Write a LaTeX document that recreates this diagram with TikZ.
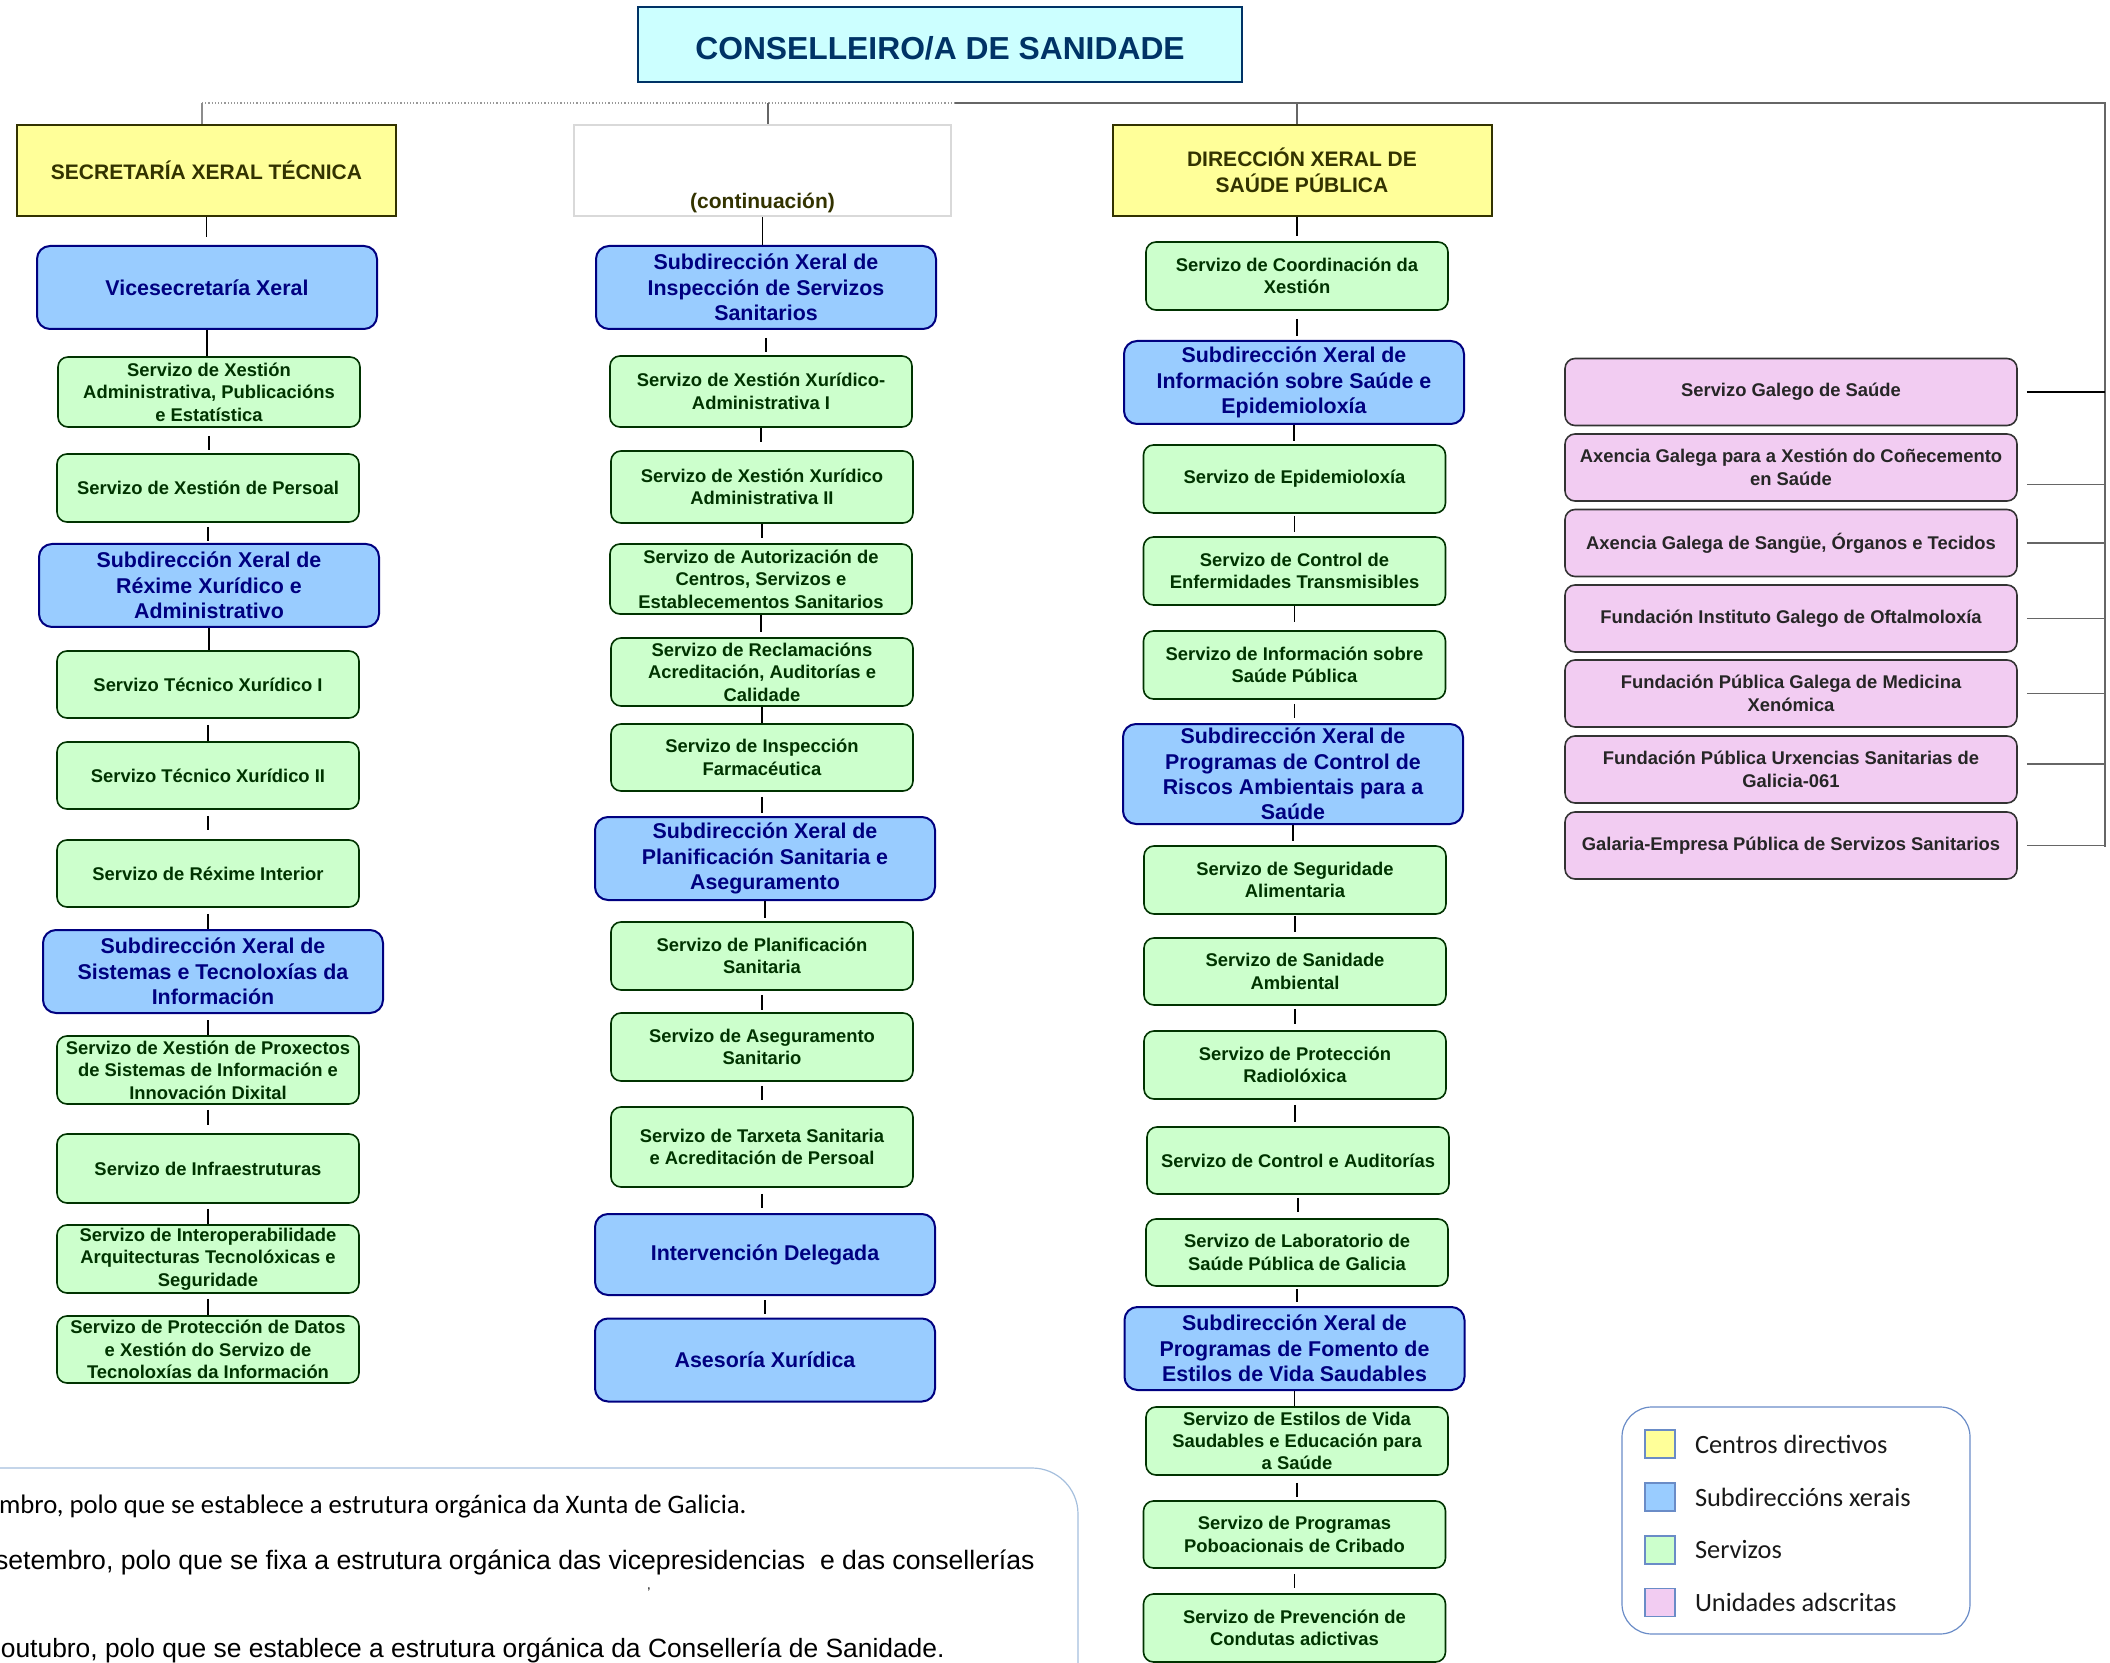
\documentclass[tikz,border=0pt]{standalone}
\usepackage{fontspec}
\setmainfont{Liberation Sans}
\newfontfamily\carlito{Carlito}
\usetikzlibrary{positioning}
\definecolor{amarelo}{HTML}{FFFF99}
\definecolor{oliva}{HTML}{333300}
\definecolor{azul}{HTML}{99CCFF}
\definecolor{azulesc}{HTML}{000080}
\definecolor{verde}{HTML}{CCFFCC}
\definecolor{verdeesc}{HTML}{003300}
\definecolor{rosa}{HTML}{F2CCF2}
\definecolor{rosaesc}{HTML}{333333}
\definecolor{cian}{HTML}{CCFFFF}
\definecolor{azulmar}{HTML}{003366}
\definecolor{grisclaro}{HTML}{D9D9D9}
\definecolor{lendaazul}{HTML}{6A8CC7}
\definecolor{notaazul}{HTML}{A5BFDD}

\begin{document}
\begin{tikzpicture}
[
    x=0.5pt, y=-0.5pt,
    every node/.style={inner sep=0pt, align=center},
    titulo/.style={draw=azulmar, fill=cian, line width=1pt, minimum width=302pt, minimum height=37.5pt, text=azulmar, font=\bfseries\fontsize{15.9}{19}\selectfont},
    cabeza/.style={draw=oliva, fill=amarelo, line width=1pt, minimum width=189.5pt, minimum height=45.5pt, text=oliva, font=\bfseries\fontsize{10.5}{12.8}\selectfont},
    subdir/.style={draw=azulesc, fill=azul, rounded corners=6.5pt, line width=1pt, minimum width=170pt, minimum height=41.5pt, text=azulesc, font=\bfseries\fontsize{10.7}{12.65}\selectfont},
    servizo/.style={draw=verdeesc, fill=verde, rounded corners=5pt, line width=0.8pt, minimum width=151pt, minimum height=34pt, text=verdeesc, font=\bfseries\fontsize{9.2}{11.2}\selectfont},
    adscrita/.style={draw=rosaesc, fill=rosa, rounded corners=5pt, line width=0.8pt, minimum width=226pt, minimum height=33.5pt, text=black!85, font=\bfseries\fontsize{9.2}{11.2}\selectfont},
    link/.style={line width=0.8pt},
    barra/.style={draw=black!60, line width=0.6pt},
    cadro/.style={draw=lendaazul, line width=0.6pt, minimum width=15pt, minimum height=14pt},
    lenda/.style={text=black!90, font=\carlito\fontsize{13.2}{15}\selectfont},
    nota/.style={text=black, font=\fontsize{13.3}{15}\selectfont},
]
\useasboundingbox (0,0) rectangle (2110,1663);
\node[titulo, text height=15.4pt, text depth=0.3pt] (conselleiro) at (940,44.5) {CONSELLEIRO/A DE SANIDADE};
\node[cabeza] (sxt) at (206.5,170.5) {SECRETARÍA XERAL TÉCNICA};
\node[subdir] (vice) at (207,287.5) {Vicesecretaría Xeral};
\node[servizo, minimum height=35pt] (admin) at (209,392) {Servizo de Xestión\\Administrativa, Publicacións\\e Estatística};
\node[servizo] (persoal) at (208,488) {Servizo de Xestión de Persoal};
\node[subdir] (rexime) at (209,585.5) {Subdirección Xeral de\\Réxime Xurídico e\\Administrativo};
\node[servizo, minimum height=33.5pt] (tec1) at (208,684.5) {Servizo Técnico Xurídico I};
\node[servizo, minimum height=33.5pt] (tec2) at (208,775.5) {Servizo Técnico Xurídico II};
\node[servizo, minimum height=33.5pt] (interior) at (208,873.5) {Servizo de Réxime Interior};
\node[subdir] (sistemas) at (213,971.5) {Subdirección Xeral de\\Sistemas e Tecnoloxías da\\Información};
\node[servizo] (proxectos) at (208,1070) {Servizo de Xestión de Proxectos\\de Sistemas de Información e\\Innovación Dixital};
\node[servizo, minimum height=34.5pt] (infra) at (208,1168.5) {Servizo de Infraestruturas};
\node[servizo] (interop) at (208,1259) {Servizo de Interoperabilidade\\Arquitecturas Tecnolóxicas e\\Seguridade};
\node[servizo, minimum height=33.5pt] (datos) at (208,1349.5) {Servizo de Protección de Datos\\e Xestión do Servizo de\\Tecnoloxías da Información};
\node[cabeza, draw=grisclaro, fill=white, minimum width=188.5pt, label={[anchor=base, yshift=4pt, text=oliva, font=\bfseries\fontsize{10.5}{12.8}\selectfont]south:(continuación)}] (cont) at (762.5,170.5) {};
\node[subdir] (inspec) at (766,287.5) {Subdirección Xeral de\\Inspección de Servizos\\Sanitarios};
\node[servizo, minimum height=35.5pt] (xur1) at (761,391.5) {Servizo de Xestión Xurídico-\\Administrativa I};
\node[servizo, minimum height=36pt] (xur2) at (762,487) {Servizo de Xestión Xurídico\\Administrativa II};
\node[servizo, minimum height=35pt] (autor) at (761,579) {Servizo de Autorización de\\Centros, Servizos e\\Establecementos Sanitarios};
\node[servizo] (reclam) at (762,672) {Servizo de Reclamacións\\Acreditación, Auditorías e\\Calidade};
\node[servizo, minimum height=33.5pt] (farma) at (762,757.5) {Servizo de Inspección\\Farmacéutica};
\node[subdir] (planif) at (765,858.5) {Subdirección Xeral de\\Planificación Sanitaria e\\Aseguramento};
\node[servizo] (plansan) at (762,956) {Servizo de Planificación\\Sanitaria};
\node[servizo] (asegur) at (762,1047) {Servizo de Aseguramento\\Sanitario};
\node[servizo, minimum height=40pt] (tarxeta) at (762,1147) {Servizo de Tarxeta Sanitaria\\e Acreditación de Persoal};
\node[subdir, minimum height=40.5pt] (interv) at (765,1254.5) {Intervención Delegada};
\node[subdir] (asesoria) at (765,1360) {Asesoría Xurídica};
\node[cabeza] (dxsp) at (1302,170.5) {DIRECCIÓN XERAL DE\\SAÚDE PÚBLICA};
\node[servizo] (coord) at (1297,276) {Servizo de Coordinación da\\Xestión};
\node[subdir] (infosaude) at (1294,382.5) {Subdirección Xeral de\\Información sobre Saúde e\\Epidemioloxía};
\node[servizo] (epidem) at (1294.5,479) {Servizo de Epidemioloxía};
\node[servizo] (enferm) at (1294.5,571) {Servizo de Control de\\Enfermidades Transmisibles};
\node[servizo] (infopub) at (1294.5,665) {Servizo de Información sobre\\Saúde Pública};
\node[subdir, minimum height=50pt] (riscos) at (1293,774) {Subdirección Xeral de\\Programas de Control de\\Riscos Ambientais para a\\Saúde};
\node[servizo] (alim) at (1295,880) {Servizo de Seguridade\\Alimentaria};
\node[servizo, minimum height=33.5pt] (ambiental) at (1295,971.5) {Servizo de Sanidade\\Ambiental};
\node[servizo] (radio) at (1295,1065) {Servizo de Protección\\Radiolóxica};
\node[servizo, minimum height=33.5pt] (auditor) at (1298,1160.5) {Servizo de Control e Auditorías};
\node[servizo, minimum height=33.5pt] (labor) at (1297,1252.5) {Servizo de Laboratorio de\\Saúde Pública de Galicia};
\node[subdir] (fomento) at (1294.5,1348.5) {Subdirección Xeral de\\Programas de Fomento de\\Estilos de Vida Saudables};
\node[servizo] (estilos) at (1297,1441) {Servizo de Estilos de Vida\\Saudables e Educación para\\a Saúde};
\node[servizo, minimum height=33.5pt] (cribado) at (1294.5,1534.5) {Servizo de Programas\\Poboacionais de Cribado};
\node[servizo] (adictivas) at (1294.5,1628) {Servizo de Prevención de\\Condutas adictivas};
\node[adscrita] (sergas) at (1791,392) {Servizo Galego de Saúde};
\node[adscrita] (acis) at (1791,467.5) {Axencia Galega para a Xestión do Coñecemento\\en Saúde};
\node[adscrita] (adost) at (1791,543) {Axencia Galega de Sangüe, Órganos e Tecidos};
\node[adscrita] (oftalmo) at (1791,618.5) {Fundación Instituto Galego de Oftalmoloxía};
\node[adscrita] (xenomica) at (1791,693.5) {Fundación Pública Galega de Medicina\\Xenómica};
\node[adscrita] (urxencias) at (1791,769.5) {Fundación Pública Urxencias Sanitarias de\\Galicia-061};
\node[adscrita] (galaria) at (1791,845.5) {Galaria-Empresa Pública de Servizos Sanitarios};
\coordinate (barL) at (202,103);
\coordinate (barM) at (955,103);
\coordinate (barR) at (2105,103);
\coordinate (busB) at (2105,847);
\coordinate (baixa2) at (768,103);
\coordinate (baixa3) at (1297,103);
\draw[barra, draw=black!40, densely dotted] (barL) -- (barM);
\draw[barra] (barM) -- (barR) -- (busB);
\draw[barra, draw=black!45] (barL) -- (barL |- sxt.north);
\draw[barra] (baixa2) -- (baixa2 |- cont.north);
\draw[barra] (baixa3) -- (baixa3 |- dxsp.north);
\draw[barra, draw=black, shorten <=4.5pt] (sergas.east) -- (sergas.east -| barR);
\draw[barra, shorten <=4.5pt] ([yshift=-8.5pt]acis.east) -- ([yshift=-8.5pt]acis.east -| barR);
\draw[barra, shorten <=4.5pt] (adost.east) -- (adost.east -| barR);
\draw[barra, shorten <=4.5pt] (oftalmo.east) -- (oftalmo.east -| barR);
\draw[barra, shorten <=4.5pt] (xenomica.east) -- (xenomica.east -| barR);
\draw[barra, shorten <=4.5pt] ([yshift=2.75pt]urxencias.east) -- ([yshift=2.75pt]urxencias.east -| barR);
\draw[barra, shorten <=4.5pt] (galaria.east) -- (galaria.east -| barR);
\draw[link, shorten >=4pt] (sxt.south) -- (sxt.south |- vice.north);
\draw[link] (vice.south) -- (vice.south |- admin.north);
\draw[link, shorten <=4pt, shorten >=1.5pt] (admin.south) -- (admin.south |- persoal.north);
\draw[link, shorten <=2pt, shorten >=1pt] (persoal.south) -- (persoal.south |- rexime.north);
\draw[link] (rexime.south) -- (rexime.south |- tec1.north);
\draw[link, shorten <=3pt] (tec1.south) -- (tec1.south |- tec2.north);
\draw[link, shorten <=3pt, shorten >=4.5pt] (tec2.south) -- (tec2.south |- interior.north);
\draw[link, shorten <=3pt] (interior.south) -- (interior.south |- sistemas.north);
\draw[link, shorten <=3pt] (proxectos.north |- sistemas.south) -- (proxectos.north);
\draw[link, shorten <=2.5pt, shorten >=4pt] (proxectos.south) -- (proxectos.south |- infra.north);
\draw[link, shorten <=2.5pt] (infra.south) -- (infra.south |- interop.north);
\draw[link, shorten <=2.5pt] (interop.south) -- (interop.south |- datos.north);
\draw[link] (cont.south) -- (cont.south |- inspec.north);
\draw[link, shorten <=4pt, shorten >=1.5pt] (inspec.south) -- (inspec.south |- xur1.north);
\draw[link, shorten >=4pt] (xur1.south) -- (xur1.south |- xur2.north);
\draw[link, shorten >=2.5pt] (xur2.south) -- (xur2.south |- autor.north);
\draw[link, shorten >=2.5pt] (autor.south) -- (autor.south |- reclam.north);
\draw[link] (reclam.south) -- (reclam.south |- farma.north);
\draw[link, shorten <=2.5pt, shorten >=1.5pt] (farma.south) -- (farma.south |- planif.north);
\draw[link, shorten >=1.5pt] (planif.south) -- (planif.south |- plansan.north);
\draw[link, shorten <=2pt, shorten >=1pt] (plansan.south) -- (plansan.south |- asegur.north);
\draw[link, shorten <=2pt, shorten >=3pt] (asegur.south) -- (asegur.south |- tarxeta.north);
\draw[link, shorten <=3pt, shorten >=2.5pt] (tarxeta.south) -- (tarxeta.south |- interv.north);
\draw[link, shorten <=2pt, shorten >=2pt] (interv.south) -- (interv.south |- asesoria.north);
\draw[link, shorten >=2.5pt] (coord.north |- dxsp.south) -- (coord.north);
\draw[link, shorten <=4pt, shorten >=2pt] (coord.south) -- (coord.south |- infosaude.north);
\draw[link, shorten >=1.5pt] (infosaude.south) -- (infosaude.south |- epidem.north);
\draw[link, shorten <=1pt, shorten >=2pt] (epidem.south) -- (epidem.south |- enferm.north);
\draw[link, shorten >=4pt] (enferm.south) -- (enferm.south |- infopub.north);
\draw[link, shorten <=2pt, shorten >=2.5pt] (infopub.south) -- (infopub.south |- riscos.north);
\draw[link, shorten >=2pt] (riscos.south) -- (riscos.south |- alim.north);
\draw[link, shorten <=0.5pt, shorten >=2.5pt] (alim.south) -- (alim.south |- ambiental.north);
\draw[link, shorten <=1.5pt, shorten >=3pt] (ambiental.south) -- (ambiental.south |- radio.north);
\draw[link, shorten <=2.5pt, shorten >=2pt] (radio.south) -- (radio.south |- auditor.north);
\draw[link, shorten <=1.5pt, shorten >=3pt] (auditor.south) -- (auditor.south |- labor.north);
\draw[link, shorten <=1pt, shorten >=2pt] (labor.south) -- (labor.south |- fomento.north);
\draw[link] (fomento.south) -- (fomento.south |- estilos.north);
\draw[link, shorten <=3.5pt, shorten >=1.5pt] (estilos.south) -- (estilos.south |- cribado.north);
\draw[link, shorten <=2.5pt, shorten >=2.5pt] (cribado.south) -- (cribado.south |- adictivas.north);
\node[draw=lendaazul, line width=0.6pt, rounded corners=15pt, minimum width=174pt, minimum height=113.5pt] (lenda) at (1796,1520.5) {};
\node[cadro, fill=amarelo] (cor1) at (1660,1444) {};
\node[cadro, fill=azul, below=11.9pt of cor1] (cor2) {};
\node[cadro, fill=verde, below=11.9pt of cor2] (cor3) {};
\node[cadro, fill=rosa, below=11.5pt of cor3] (cor4) {};
\node[lenda, right=9.5pt of cor1] (txt1) {Centros directivos};
\node[lenda, right=9.5pt of cor2] (txt2) {Subdireccións xerais};
\node[lenda, right=9.5pt of cor3] (txt3) {Servizos};
\node[lenda, right=9.5pt of cor4] (txt4) {Unidades adscritas};
\draw[draw=notaazul, line width=0.6pt, rounded corners=23pt] (-100,1468) rectangle (1078,1800);
\node[nota, font=\carlito\fontsize{13.35}{15}\selectfont, anchor=base east] (lei1) at (747,1513) {mbro, polo que se establece a estrutura orgánica da Xunta de Galicia.};
\node[nota, anchor=base east] (lei2) at (1035,1569) {setembro, polo que se fixa a estrutura orgánica das vicepresidencias\ \ e das consellerías};
\node[nota, font=\fontsize{7}{8}\selectfont] (marca) at (649,1593) {'};
\node[nota, font=\fontsize{13.2}{15}\selectfont, anchor=base east] (lei3) at (945,1657) {outubro, polo que se establece a estrutura orgánica da Consellería de Sanidade.};
\end{tikzpicture}
\end{document}
